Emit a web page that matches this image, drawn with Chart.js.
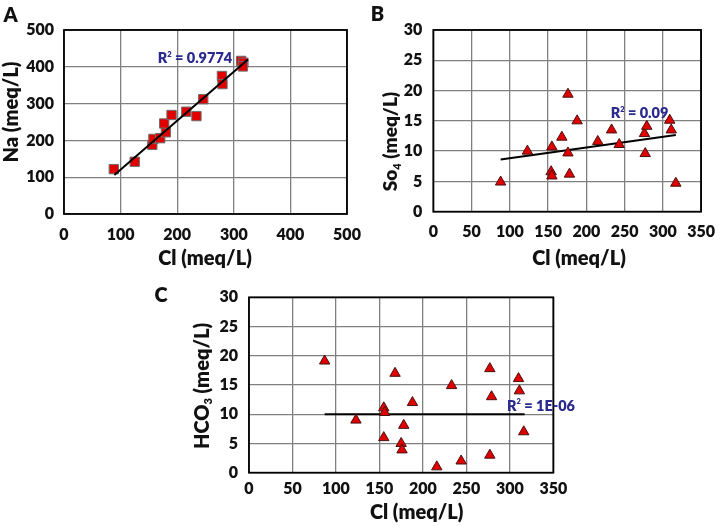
<!DOCTYPE html>
<html><head><meta charset="utf-8">
<script src="https://cdn.jsdelivr.net/npm/chart.js@4.4.1/dist/chart.umd.min.js"></script>
<style>
html,body{margin:0;padding:0;background:#fff;width:726px;height:526px;overflow:hidden}
.p{position:absolute;left:0;top:0;width:726px;height:526px}
</style>
</head><body>
<div class="p"><canvas id="cA"></canvas></div>
<div class="p"><canvas id="cB"></canvas></div>
<div class="p"><canvas id="cC"></canvas></div>
<script>
// ---- Data ----
const clA  = [88, 125, 156, 158, 170, 180, 177, 190, 216, 234, 246, 279, 280, 313, 317, 316];
const naA  = [122, 142, 188, 204, 206, 222, 246, 269, 278, 266, 312, 375, 353, 416, 411, 401];

const clB  = [88, 123, 155, 154, 155, 168, 176, 176, 178, 188, 215, 233, 243, 277, 276, 279, 309, 311, 317];
const so4B = [4.9, 10.0, 10.7, 6.6, 5.9, 12.3, 19.4, 9.7, 6.2, 15.0, 11.6, 13.5, 11.1, 9.6, 12.9, 14.1, 15.1, 13.5, 4.7];

const clC   = [87, 123, 155, 156, 155, 168, 175, 176, 178, 188, 216, 233, 244, 277, 279, 277, 310, 311, 316];
const hco3C = [19.1, 9.0, 11.1, 10.3, 6.0, 17.0, 5.0, 3.9, 8.1, 12.0, 1.0, 14.9, 2.0, 17.8, 13.0, 3.0, 16.1, 14.0, 7.0];

const trendAx = [89, 325],  trendAy = [106, 420];
const trendBx = [88, 317],  trendBy = [8.6, 12.65];
const trendCx = [87, 317],  trendCy = [10, 10];

const r2A = '0.9774', r2B = '0.09', r2C = '1E-06';

const axisA = {xmin: 0, xmax: 500, xstep: 100, ymin: 0, ymax: 500, ystep: 100};
const axisBC = {xmin: 0, xmax: 350, xstep: 50, ymin: 0, ymax: 30, ystep: 5};

// ---- helpers ----
const pts = (xs, ys) => xs.map((x, i) => ({x: x, y: ys[i]}));
const FONT = 'Lato, "Open Sans", sans-serif';
const WEIGHT = '800';

function drawRich(ctx, parts, cx, by, rot, color) {
  ctx.save();
  ctx.translate(cx, by);
  if (rot) ctx.rotate(rot);
  ctx.fillStyle = color;
  ctx.textBaseline = 'alphabetic';
  ctx.textAlign = 'left';
  const w = parts.map(p => { ctx.font = WEIGHT + ' ' + p.s + 'px ' + FONT; return ctx.measureText(p.t).width; });
  const total = w.reduce((a, b) => a + b, 0);
  let x = -total / 2;
  parts.forEach((p, i) => {
    ctx.font = WEIGHT + ' ' + p.s + 'px ' + FONT;
    ctx.fillText(p.t, x, p.dy || 0);
    x += w[i];
  });
  ctx.restore();
}

function decorPlugin(d) {
  return {
    id: 'decor',
    beforeDatasetsDraw(chart) {
      const {ctx, chartArea: a} = chart;
      ctx.save();
      ctx.strokeStyle = '#000';
      ctx.lineWidth = 1.8;
      ctx.strokeRect(a.left, a.top, a.right - a.left, a.bottom - a.top);
      ctx.restore();
    },
    afterDraw(chart) {
      const ctx = chart.ctx;
      drawRich(ctx, [{t: d.letter, s: 20}], d.letterPos[0], d.letterPos[1], 0, '#111');
      drawRich(ctx, d.xTitle, d.xTitlePos[0], d.xTitlePos[1], 0, '#111');
      drawRich(ctx, d.yTitle, d.yTitlePos[0], d.yTitlePos[1], -Math.PI / 2, '#111');
      drawRich(ctx, d.r2, d.r2Pos[0], d.r2Pos[1], 0, '#2b2b8f');
    }
  };
}

function r2Parts(v) {
  return [{t: 'R', s: 14.5}, {t: '2', s: 7.5, dy: -6.5}, {t: ' = ' + v, s: 14.5}];
}

function makeChart(id, o) {
  const tickFont = {family: FONT, weight: WEIGHT, size: 16};
  const grid = {color: '#808080', lineWidth: 1.3, drawTicks: false};
  return new Chart(document.getElementById(id), {
    type: 'scatter',
    data: {
      datasets: [
        {
          type: 'line',
          data: pts(o.tx, o.ty),
          borderColor: '#000',
          borderWidth: 2,
          pointRadius: 0,
          fill: false,
          showLine: true,
          order: o.lineOnTop ? 0 : 2
        },
        {
          data: pts(o.xs, o.ys),
          pointStyle: o.style,
          pointRadius: o.radius,
          backgroundColor: '#e00000',
          borderColor: o.style === 'rect' ? '#6e6e6e' : '#4a1010',
          borderWidth: 1,
          order: 1
        }
      ]
    },
    options: {
      responsive: true,
      maintainAspectRatio: false,
      animation: false,
      events: [],
      layout: {padding: o.pad},
      plugins: {legend: {display: false}, tooltip: {enabled: false}},
      scales: {
        x: {
          type: 'linear', min: o.ax.xmin, max: o.ax.xmax,
          ticks: {stepSize: o.ax.xstep, font: tickFont, color: '#111', padding: o.xTickPad, maxRotation: 0, autoSkip: false},
          grid: grid, border: {display: false},
          afterFit(s) { s.height = 30; }
        },
        y: {
          type: 'linear', min: o.ax.ymin, max: o.ax.ymax,
          ticks: {stepSize: o.ax.ystep, font: tickFont, color: '#111', padding: o.yTickPad},
          grid: grid, border: {display: false},
          afterFit(s) { s.width = o.yW; }
        }
      }
    },
    plugins: [decorPlugin(o.decor)]
  });
}

// Panel A: chart area 64..347 x 30..214
makeChart('cA', {
  xs: clA, ys: naA, tx: trendAx, ty: trendAy, style: 'rect', radius: 6.6, lineOnTop: true,
  ax: axisA, yW: 50, xTickPad: 11, yTickPad: 10,
  pad: {left: 14, right: 726 - 347, top: 30, bottom: 526 - 214 - 30},
  decor: {
    letter: 'A', letterPos: [10.5, 21.5],
    xTitle: [{t: 'Cl (meq/L)', s: 20}], xTitlePos: [205, 265],
    yTitle: [{t: 'Na (meq/L)', s: 20}], yTitlePos: [18, 112],
    r2: r2Parts(r2A), r2Pos: [195, 63]
  }
});

// Panel B: chart area 433.3..711.7 x 30..211.7
makeChart('cB', {
  xs: clB, ys: so4B, tx: trendBx, ty: trendBy, style: 'triangle', radius: 6, lineOnTop: false,
  ax: axisBC, yW: 40, xTickPad: 11, yTickPad: 11,
  pad: {left: 393.3, right: 726 - 711.7, top: 30, bottom: 526 - 211.7 - 30},
  decor: {
    letter: 'B', letterPos: [377.5, 21.2],
    xTitle: [{t: 'Cl (meq/L)', s: 20}], xTitlePos: [579, 265],
    yTitle: [{t: 'So', s: 19}, {t: '4', s: 11, dy: 3.5}, {t: ' (meq/L)', s: 19}], yTitlePos: [397, 141.5],
    r2: r2Parts(r2B), r2Pos: [639.5, 118]
  }
});

// Panel C: chart area 249..553.3 x 297.3..472.7
makeChart('cC', {
  xs: clC, ys: hco3C, tx: trendCx, ty: trendCy, style: 'triangle', radius: 6, lineOnTop: false,
  ax: axisBC, yW: 40, xTickPad: 7, yTickPad: 11,
  pad: {left: 209, right: 726 - 553.3, top: 297.3, bottom: 526 - 472.7 - 30},
  decor: {
    letter: 'C', letterPos: [161, 302],
    xTitle: [{t: 'Cl (meq/L)', s: 20}], xTitlePos: [416.7, 519],
    yTitle: [{t: 'HCO', s: 20}, {t: '3', s: 11, dy: 3.5}, {t: ' (meq/L)', s: 20}], yTitlePos: [208.5, 386],
    r2: r2Parts(r2C), r2Pos: [541, 410.7]
  }
});
</script>
</body></html>
